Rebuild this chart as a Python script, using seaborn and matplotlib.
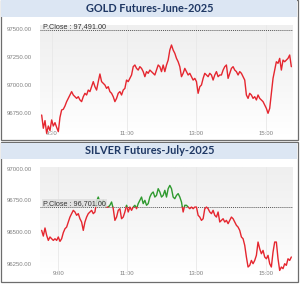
import numpy as np
import pandas as pd
import matplotlib
matplotlib.use("Agg")
import matplotlib.pyplot as plt
import seaborn as sns
from matplotlib.patches import Rectangle
from matplotlib.colors import LinearSegmentedColormap
from matplotlib.transforms import blended_transform_factory

sns.set_style("white")
plt.rcParams["font.family"] = ["Liberation Sans", "DejaVu Sans"]

# ---------------- data ----------------
gold_title = "GOLD Futures-June-2025"
gold_pclose = 97491.00
gold_values = [
    96735, 96617, 96685, 96572, 96637, 96596, 96691, 96637, 96667, 96625,
    96587, 96714, 96780, 96786, 96815, 96854, 96883, 96913, 96943, 96913,
    96898, 96883, 96898, 96869, 96854, 96898, 96928, 96913, 96957, 96943,
    96987, 97032, 96987, 96957, 97032, 97100, 97032, 97017, 97002, 96972,
    96987, 96943, 96928, 96898, 96854, 96883, 96928, 96943, 96913, 96957,
    96972, 97046, 97032, 97061, 97091, 97165, 97180, 97150, 97135, 97165,
    97150, 97121, 97076, 97121, 97106, 97135, 97121, 97106, 97091, 97135,
    97180, 97165, 97121, 97180, 97121, 97180, 97224, 97313, 97358, 97313,
    97284, 97239, 97209, 97165, 97076, 97106, 97150, 97121, 97091, 97106,
    97076, 97046, 97061, 97032, 96928, 96987, 97002, 97061, 97106, 97091,
    97076, 97106, 97091, 97046, 97091, 97121, 97076, 97091, 97091, 97135,
    97165, 97180, 97061, 97106, 97150, 97165, 97135, 97121, 97091, 97121,
    97106, 97076, 97046, 96913, 96883, 96928, 96913, 96883, 96898, 96869,
    96913, 96883, 96869, 96854, 96824, 96794, 96750, 96794, 96928, 97061,
    97135, 97209, 97195, 97239, 97135, 97224, 97209, 97224, 97239, 97269,
    97165,
]
gold_yticks = [96750, 97000, 97250, 97500]
gold_xtick_labels = ["9:30", "11:00", "13:00", "15:00"]
gold_xtick_idx = [6, 51, 93, 135]

silver_title = "SILVER Futures-July-2025"
silver_pclose = 96701.00
silver_values = [
    96513, 96468, 96532, 96474, 96434, 96461, 96447, 96434, 96447, 96434,
    96461, 96426, 96447, 96495, 96526, 96539, 96579, 96618, 96645, 96671,
    96658, 96632, 96645, 96605, 96579, 96513, 96579, 96618, 96645, 96658,
    96671, 96645, 96658, 96742, 96776, 96737, 96724, 96750, 96711, 96697,
    96697, 96711, 96737, 96684, 96592, 96618, 96671, 96684, 96605, 96618,
    96658, 96711, 96658, 96697, 96671, 96697, 96711, 96684, 96724, 96750,
    96776, 96724, 96750, 96711, 96724, 96776, 96803, 96816, 96776, 96789,
    96842, 96816, 96776, 96789, 96829, 96776, 96842, 96868, 96842, 96776,
    96763, 96789, 96803, 96776, 96737, 96658, 96711, 96711, 96697, 96684,
    96697, 96684, 96697, 96697, 96632, 96618, 96592, 96605, 96684, 96697,
    96684, 96658, 96645, 96671, 96632, 96618, 96658, 96579, 96592, 96605,
    96579, 96592, 96566, 96592, 96618, 96605, 96579, 96553, 96539, 96513,
    96461, 96447, 96395, 96303, 96224, 96237, 96276, 96250, 96276, 96316,
    96421, 96368, 96329, 96355, 96303, 96289, 96316, 96250, 96224, 96342,
    96421, 96421, 96289, 96197, 96224, 96211, 96250, 96237, 96289, 96276,
    96303,
]
silver_yticks = [96250, 96500, 96750, 97000]
silver_xtick_labels = ["9:00", "11:00", "13:00", "15:00"]
silver_xtick_idx = [10, 51, 93, 135]

RED = "#e5262f"
GREEN = "#2f9a2f"

W, H = 300, 284
fig = plt.figure(figsize=(W / 100, H / 100), dpi=100)
fig.patch.set_facecolor("white")


def fx(px):
    return px / W


def fy(py):
    return 1 - py / H


def split_runs(values, pclose):
    rows = []
    run = 0
    side = "above" if values[0] > pclose else "below"
    rows.append((0.0, values[0], run, side))
    for i in range(1, len(values)):
        a, b = values[i - 1], values[i]
        sb = "above" if b > pclose else "below"
        if sb != side:
            t = (pclose - a) / (b - a)
            xc = i - 1 + t
            rows.append((xc, pclose, run, side))
            run += 1
            side = sb
            rows.append((xc, pclose, run, side))
        rows.append((float(i), b, run, side))
    return pd.DataFrame(rows, columns=["x", "y", "run", "side"])


grad_cmap = LinearSegmentedColormap.from_list("g", ["#efefef", "#f6f6f6", "#ffffff"])


def panel(top, bottom, title, values, pclose, ylim, yticks, xidx, xlabels,
          plot_top, plot_bottom, label_bg):
    # outer box
    fig.patches.append(Rectangle((fx(0.5), fy(bottom)), fx(297.5), (bottom - top) / H,
                                 transform=fig.transFigure, facecolor="none",
                                 edgecolor="#6d6d6d", lw=0.9, zorder=0))
    # title bar
    fig.patches.append(Rectangle((fx(1.2), fy(top + 16.5)), fx(296.2), 16 / H,
                                 transform=fig.transFigure, facecolor="#dce6f3",
                                 edgecolor="none", zorder=1))
    fig.text(fx(149.5), fy(top + 8.9), title, ha="center", va="center",
             fontsize=7.9, fontweight="bold", color="#1f3864",
             family=["Lato", "DejaVu Sans"], zorder=3)

    ax = fig.add_axes([fx(40), fy(plot_bottom), fx(253), (plot_bottom - plot_top) / H])
    ax.set_zorder(5)
    ax.set_facecolor("none")
    ax.imshow(np.linspace(0, 1, 64).reshape(-1, 1), cmap=grad_cmap, aspect="auto",
              extent=(0, 1, 0, 1), transform=ax.transAxes, zorder=0)

    for xi in xidx:
        ax.axvline(xi, color="#e8e8e8", lw=0.6, zorder=1)

    df = split_runs(values, pclose)
    sns.lineplot(data=df, x="x", y="y", units="run", hue="side", estimator=None,
                 sort=False, palette={"above": GREEN, "below": RED},
                 legend=False, lw=1.0, ax=ax, zorder=3)

    ax.axhline(pclose, color="#555555", lw=0.7, ls=(0, (1, 1)), zorder=2)
    tr = blended_transform_factory(ax.transAxes, ax.transData)
    bbox = None
    if label_bg:
        bbox = dict(boxstyle="square,pad=0.12", facecolor="#dedede", edgecolor="none", alpha=0.85)
    ax.text(0.012, pclose, f"P.Close : {pclose:,.2f}", transform=tr, ha="left",
            va="bottom", fontsize=5.2, color="#333333", bbox=bbox, zorder=4)

    ax.set_xlim(-1, 151)
    ax.set_ylim(*ylim)
    ax.set_yticks(yticks)
    ax.set_yticklabels([f"{v:.2f}" for v in yticks])
    ax.set_xticks(xidx)
    ax.set_xticklabels(xlabels)
    ax.tick_params(axis="y", length=0, pad=5.8, labelsize=4.3, labelcolor="#7f7f7f")
    ax.tick_params(axis="x", length=0, pad=-3.2, labelsize=4.3, labelcolor="#7f7f7f")
    for lab in ax.get_xticklabels():
        lab.set_zorder(5)
    ax.set_xlabel("")
    ax.set_ylabel("")
    for s in ax.spines.values():
        s.set_visible(False)
    return ax


panel(0, 140, gold_title, gold_values, gold_pclose, (96557, 97536), gold_yticks,
      gold_xtick_idx, gold_xtick_labels, 25, 135, False)
panel(142, 282, silver_title, silver_values, silver_pclose, (96161, 97013), silver_yticks,
      silver_xtick_idx, silver_xtick_labels, 167, 275, True)

fig.savefig("out.png", dpi=100)
